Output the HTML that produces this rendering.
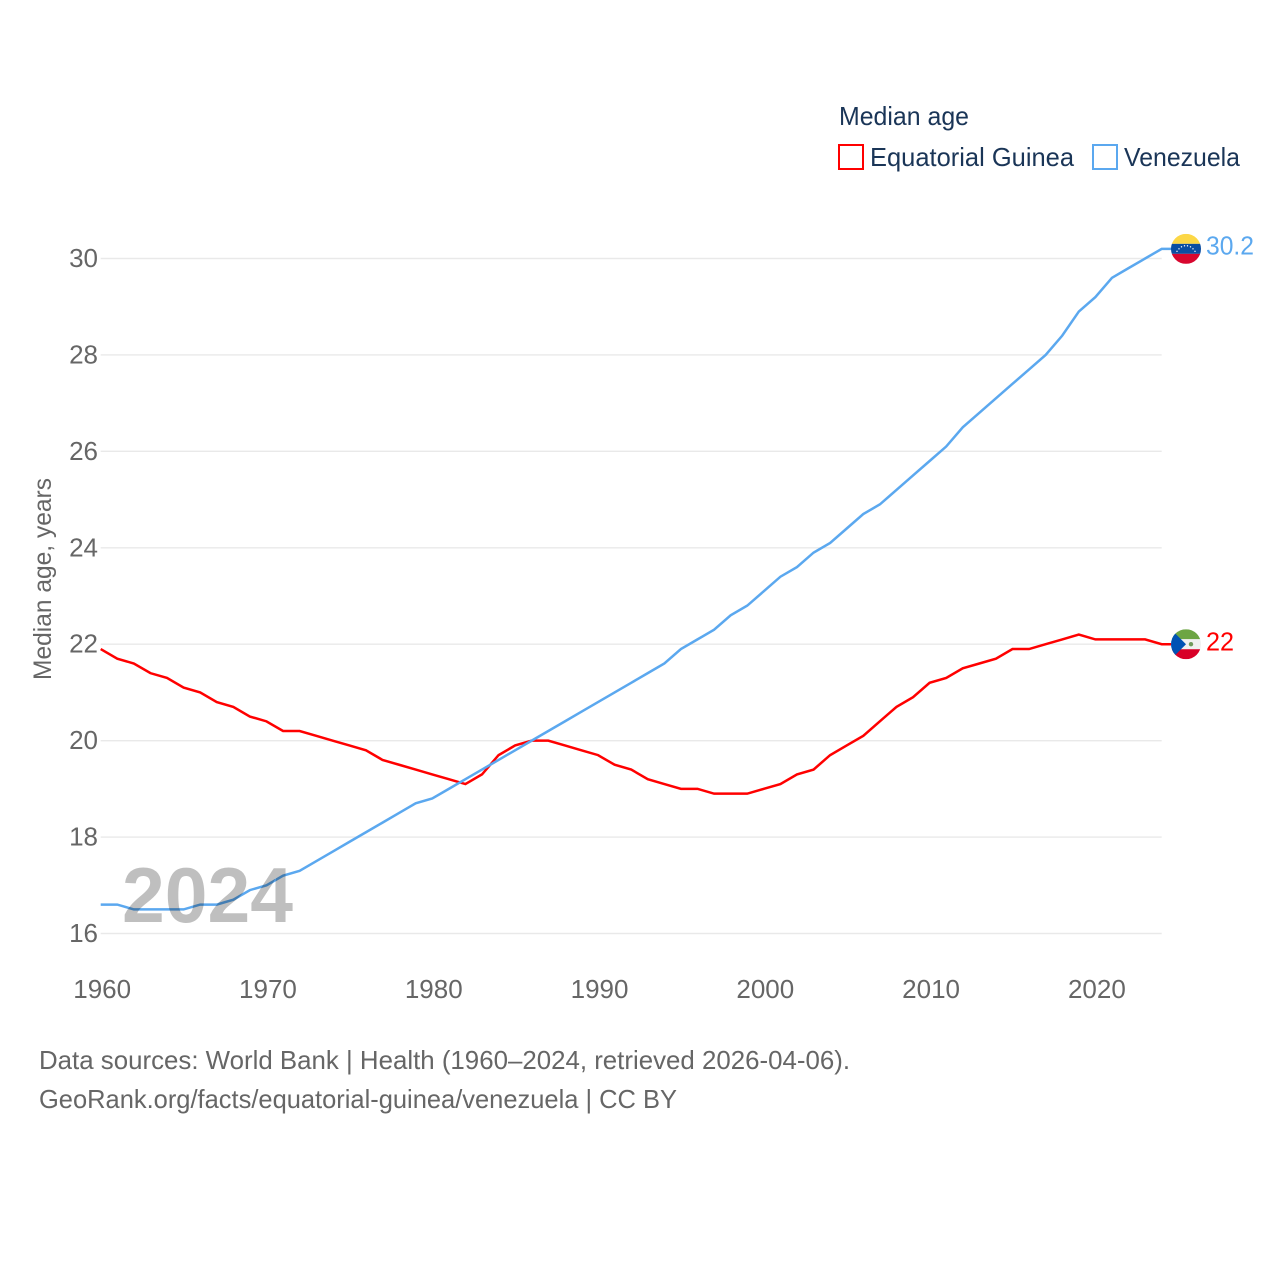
<!DOCTYPE html>
<html lang="en">
<head>
<meta charset="utf-8">
<title>Median age: Equatorial Guinea and Venezuela</title>
<style>
html,body{margin:0;padding:0;background:#fff;width:1280px;height:1280px;overflow:hidden}
svg{display:block}
text{font-family:"Liberation Sans",Arial,sans-serif}
</style>
</head>
<body>
<svg id="chart" xmlns="http://www.w3.org/2000/svg" width="1280" height="1280" viewBox="0 0 1280 1280">
  <defs>
    <clipPath id="flag-clip"><circle cx="0" cy="0" r="15"/></clipPath>
  </defs>
  <g id="grid"></g>
  <g id="y-ticks"></g>
  <g id="x-ticks"></g>
  <text transform="translate(51 680) rotate(-90)" font-size="25" fill="#666" textLength="202" lengthAdjust="spacingAndGlyphs">Median age, years</text>

  <g id="series"></g>

  <text x="122" y="922" font-size="78" font-weight="700" fill="#000" fill-opacity="0.25" textLength="171" lengthAdjust="spacingAndGlyphs">2024</text>

  <g id="flag-ve" clip-path="url(#flag-clip)">
    <rect x="-15" y="-15" width="30" height="10" fill="#fcd746"/>
    <rect x="-15" y="-5" width="30" height="10" fill="#0b4ea2"/>
    <rect x="-15" y="5" width="30" height="10" fill="#d8072f"/>
    <g fill="#fff">
      <circle cx="-9" cy="2.5" r=".7"/><circle cx="-7" cy="0" r=".7"/><circle cx="-4.5" cy="-2" r=".7"/>
      <circle cx="-1.5" cy="-3" r=".7"/><circle cx="1.5" cy="-3" r=".7"/><circle cx="4.5" cy="-2" r=".7"/>
      <circle cx="7" cy="0" r=".7"/><circle cx="9" cy="2.5" r=".7"/>
    </g>
  </g>
  <g id="flag-gq" clip-path="url(#flag-clip)">
    <rect x="-15" y="-15" width="30" height="10" fill="#6da544"/>
    <rect x="-15" y="-5" width="30" height="10" fill="#f0f0f0"/>
    <rect x="-15" y="5" width="30" height="10" fill="#d80027"/>
    <path d="M-15 -15 L0 0 L-15 15 Z" fill="#0052b4"/>
    <circle cx="5" cy="0" r="2.2" fill="#6f9a5a"/>
  </g>

  <text id="value-ve" x="1206" font-size="26" fill="#5ba8ef" textLength="48" lengthAdjust="spacingAndGlyphs"></text>
  <text id="value-gq" x="1206" font-size="26" fill="#ff0000" textLength="28" lengthAdjust="spacingAndGlyphs"></text>

  <text x="839" y="125" font-size="26" fill="#1a3557" textLength="130" lengthAdjust="spacingAndGlyphs">Median age</text>
  <g>
    <rect x="839" y="145" width="24" height="24" fill="none" stroke="#ff0000" stroke-width="2"/>
    <text x="870" y="166" font-size="26" fill="#1a3557" textLength="204" lengthAdjust="spacingAndGlyphs">Equatorial Guinea</text>
  </g>
  <g>
    <rect x="1093" y="145" width="24" height="24" fill="none" stroke="#5ba8ef" stroke-width="2"/>
    <text x="1124" y="166" font-size="26" fill="#1a3557" textLength="116" lengthAdjust="spacingAndGlyphs">Venezuela</text>
  </g>

  <text x="39" y="1069" font-size="26" fill="#666" textLength="811" lengthAdjust="spacingAndGlyphs">Data sources: World Bank | Health (1960–2024, retrieved 2026-04-06).</text>
  <text x="39" y="1108" font-size="26" fill="#666" textLength="638" lengthAdjust="spacingAndGlyphs">GeoRank.org/facts/equatorial-guinea/venezuela | CC BY</text>
</svg>
<script>
const startYear = 1960;
const equatorialGuinea = [21.9,21.7,21.6,21.4,21.3,21.1,21.0,20.8,20.7,20.5,20.4,20.2,20.2,20.1,20.0,19.9,19.8,19.6,19.5,19.4,19.3,19.2,19.1,19.3,19.7,19.9,20.0,20.0,19.9,19.8,19.7,19.5,19.4,19.2,19.1,19.0,19.0,18.9,18.9,18.9,19.0,19.1,19.3,19.4,19.7,19.9,20.1,20.4,20.7,20.9,21.2,21.3,21.5,21.6,21.7,21.9,21.9,22.0,22.1,22.2,22.1,22.1,22.1,22.1,22.0];
const venezuela = [16.6,16.6,16.5,16.5,16.5,16.5,16.6,16.6,16.7,16.9,17.0,17.2,17.3,17.5,17.7,17.9,18.1,18.3,18.5,18.7,18.8,19.0,19.2,19.4,19.6,19.8,20.0,20.2,20.4,20.6,20.8,21.0,21.2,21.4,21.6,21.9,22.1,22.3,22.6,22.8,23.1,23.4,23.6,23.9,24.1,24.4,24.7,24.9,25.2,25.5,25.8,26.1,26.5,26.8,27.1,27.4,27.7,28.0,28.4,28.9,29.2,29.6,29.8,30.0,30.2];
const yTickLabels = [16,18,20,22,24,26,28,30];
const xTickLabels = [1960,1970,1980,1990,2000,2010,2020];

const NS = 'http://www.w3.org/2000/svg';
const xAxis = function (year) { return 100.7 + (year - 1960) * (1161.7 - 100.7) / 64; };
const yAxis = function (value) { return 933.5 - (value - 16) * (933.5 - 258.5) / 14; };

function make(tag, parent) {
  const el = document.createElementNS(NS, tag);
  parent.appendChild(el);
  return el;
}

const gridGroup = document.getElementById('grid');
const yGroup = document.getElementById('y-ticks');
const xGroup = document.getElementById('x-ticks');
const seriesGroup = document.getElementById('series');

yTickLabels.forEach(function (v) {
  const line = make('line', gridGroup);
  
  
  line.setAttribute('x1', xAxis(1960));
  line.setAttribute('x2', xAxis(2024));
  line.setAttribute('y1', yAxis(v));
  line.setAttribute('y2', yAxis(v));
  line.setAttribute('stroke', '#e9e9e9');
  line.setAttribute('stroke-width', '1.4');

  const t = make('text', yGroup);
  
  
  t.setAttribute('x', 98);
  t.setAttribute('y', yAxis(v) + 8.5);
  t.setAttribute('text-anchor', 'end');
  t.setAttribute('font-size', '26');
  t.setAttribute('fill', '#666');
  t.textContent = v;
});

xTickLabels.forEach(function (y) {
  const t = make('text', xGroup);
  
  
  t.setAttribute('x', xAxis(y) + 1.5);
  t.setAttribute('y', 998);
  t.setAttribute('text-anchor', 'middle');
  t.setAttribute('font-size', '26');
  t.setAttribute('fill', '#666');
  t.textContent = y;
});

function pointsFor(values) {
  const pts = values.map(function (v, i) {
    return xAxis(startYear + i).toFixed(2) + ',' + yAxis(v).toFixed(2);
  });
  pts.push('1172,' + yAxis(values[values.length - 1]).toFixed(2));
  return pts.join(' ');
}

const redLine = make('polyline', seriesGroup);


redLine.setAttribute('points', pointsFor(equatorialGuinea));
redLine.setAttribute('fill', 'none');
redLine.setAttribute('stroke', '#ff0000');
redLine.setAttribute('stroke-width', '2.5');

const blueLine = make('polyline', seriesGroup);


blueLine.setAttribute('points', pointsFor(venezuela));
blueLine.setAttribute('fill', 'none');
blueLine.setAttribute('stroke', '#5ba8ef');
blueLine.setAttribute('stroke-width', '2.5');

const lastGq = equatorialGuinea[equatorialGuinea.length - 1];
const lastVe = venezuela[venezuela.length - 1];
document.getElementById('flag-gq').setAttribute('transform', 'translate(1186 ' + yAxis(lastGq) + ')');
document.getElementById('flag-ve').setAttribute('transform', 'translate(1186 ' + yAxis(lastVe) + ')');
const valueGq = document.getElementById('value-gq');
valueGq.setAttribute('y', yAxis(lastGq) + 6.5);
valueGq.textContent = String(lastGq);
const valueVe = document.getElementById('value-ve');
valueVe.setAttribute('y', yAxis(lastVe) + 5.5);
valueVe.textContent = String(lastVe);
</script>
</body>
</html>
